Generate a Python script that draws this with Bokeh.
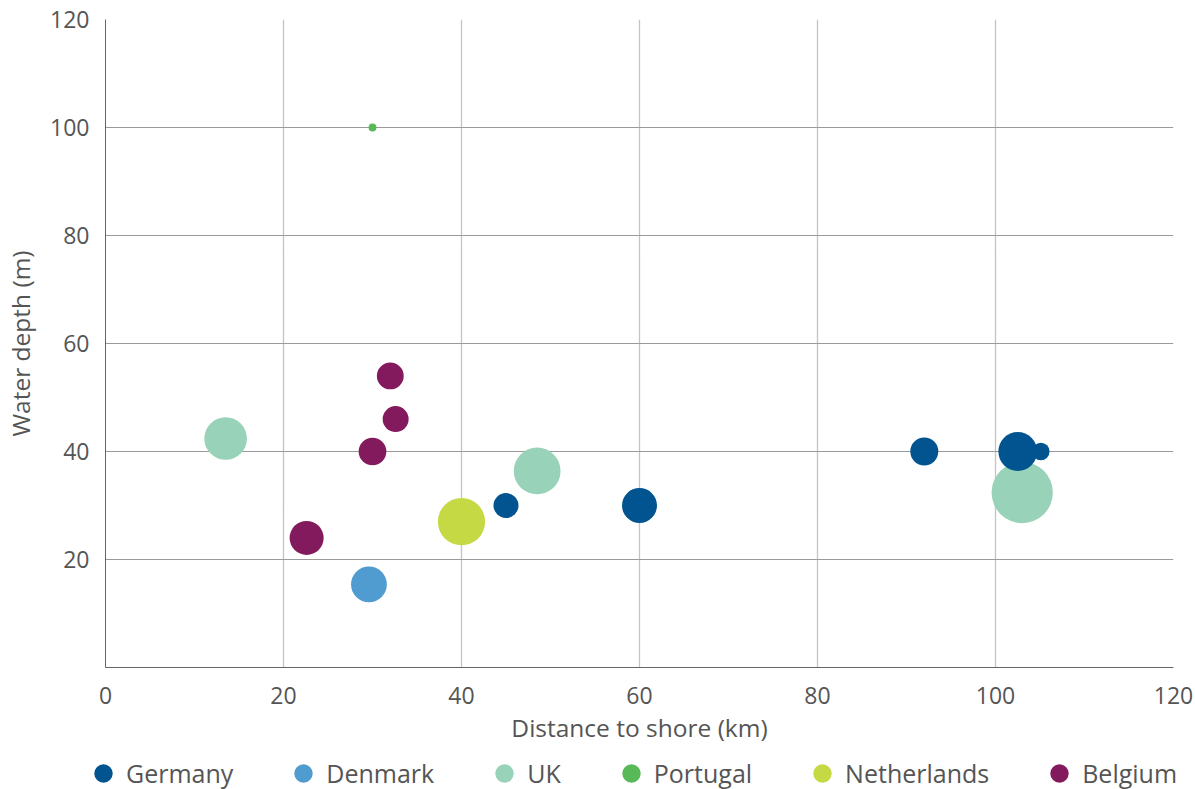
import math
from bokeh.plotting import figure
from bokeh.layouts import column
from bokeh.models import ColumnDataSource, FixedTicker, Legend, LegendItem, Range1d
from bokeh.embed import file_html
from bokeh.resources import INLINE

# ---- data (distance to shore km, water depth m, capacity MW) ----
germany_x = [45.0, 60.0, 92.0, 102.5, 105.1]
germany_y = [30.0, 30.0, 40.0, 40.0, 40.0]
germany_z = [200, 390, 250, 480, 96]

denmark_x = [29.6]
denmark_y = [15.4]
denmark_z = [410]

uk_x = [13.5, 48.5, 103.0]
uk_y = [42.4, 36.4, 32.4]
uk_z = [580, 700, 1200]

portugal_x = [30.0]
portugal_y = [100.0]
portugal_z = [20]

netherlands_x = [40.0]
netherlands_y = [27.0]
netherlands_z = [715]

belgium_x = [32.0, 32.6, 30.0, 22.6]
belgium_y = [54.0, 46.0, 40.0, 24.0]
belgium_z = [230, 216, 245, 370]

x_ticks = [0, 20, 40, 60, 80, 100, 120]
y_ticks = [20, 40, 60, 80, 100, 120]

series = [
    ("Germany", germany_x, germany_y, germany_z, "#01548F"),
    ("Denmark", denmark_x, denmark_y, denmark_z, "#509BCF"),
    ("UK", uk_x, uk_y, uk_z, "#98D2B8"),
    ("Portugal", portugal_x, portugal_y, portugal_z, "#57B957"),
    ("Netherlands", netherlands_x, netherlands_y, netherlands_z, "#C4D944"),
    ("Belgium", belgium_x, belgium_y, belgium_z, "#831A5E"),
]
draw_order = ["Portugal", "Denmark", "UK", "Netherlands", "Belgium", "Germany"]

FONT = "Open Sans"
TEXT = "#555555"
MAX_D = 61.3
zmax = max(max(s[3]) for s in series)

W = 1195
MAIN_H = 754
LEG_H = 35

p = figure(width=W, height=MAIN_H, output_backend="svg", toolbar_location=None,
           x_range=Range1d(0, 120), y_range=Range1d(0, 120),
           min_border_left=105, min_border_right=22, min_border_top=19,
           min_border_bottom=MAIN_H - 19 - 648)
p.outline_line_color = None
p.background_fill_color = "white"
p.border_fill_color = "white"

by_name = {s[0]: s for s in series}
for name in draw_order:
    _, xs, ys, zs, col = by_name[name]
    src = ColumnDataSource(dict(x=xs, y=ys, s=[MAX_D * math.sqrt(z / zmax) for z in zs]))
    p.scatter("x", "y", size="s", source=src, marker="circle",
              fill_color=col, line_color=None)

# axes
p.xaxis.ticker = FixedTicker(ticks=x_ticks)
p.yaxis.ticker = FixedTicker(ticks=y_ticks)
for ax in (p.xaxis[0], p.yaxis[0]):
    ax.major_tick_line_color = None
    ax.minor_tick_line_color = None
    ax.major_tick_out = 0
    ax.major_tick_in = 0
    ax.axis_line_color = "#666666"
    ax.axis_line_width = 1
    ax.major_label_text_font = FONT
    ax.major_label_text_font_size = "23px"
    ax.major_label_text_color = TEXT
    ax.axis_label_text_font = FONT
    ax.axis_label_text_font_size = "24.5px"
    ax.axis_label_text_font_style = "normal"
    ax.axis_label_text_color = TEXT

p.xaxis.axis_label = "Distance to shore (km)"
p.yaxis.axis_label = "Water depth (m)"
p.xaxis.major_label_standoff = 19
p.xaxis.axis_label_standoff = 4
p.yaxis.major_label_standoff = 16
p.yaxis.axis_label_standoff = 10

p.xgrid.grid_line_color = "#C4C4C4"
p.xgrid.grid_line_width = 1.3
p.ygrid.grid_line_color = "#9A9A9A"
p.ygrid.grid_line_width = 1

# ---- legend strip (a separate, axis-less figure) ----
lg = figure(width=W, height=LEG_H, output_backend="svg", toolbar_location=None,
            x_range=Range1d(0, 1), y_range=Range1d(0, 1),
            x_axis_location=None, y_axis_location=None,
            min_border=0, min_border_left=0, min_border_right=0,
            min_border_top=0, min_border_bottom=0)
lg.grid.visible = False
lg.outline_line_color = None
lg.border_fill_color = "white"
lg.background_fill_color = "white"
if "frame_align" in lg.properties():
    lg.frame_align = False
    p.frame_align = False

items = []
for name, xs, ys, zs, col in series:
    # one hidden point per series so the legend glyph is drawn
    r = lg.scatter(x=[float("nan")], y=[float("nan")], marker="circle",
                   fill_color=col, line_color=None)
    items.append(LegendItem(label=name, renderers=[r]))

legend = Legend(items=items, orientation="horizontal", location=(80, -7),
                glyph_width=46, glyph_height=46, label_standoff=0, spacing=47,
                padding=0, margin=0, border_line_color=None,
                background_fill_alpha=0,
                label_text_font=FONT, label_text_font_size="25px",
                label_text_color=TEXT)
lg.add_layout(legend, "center")

layout = column(p, lg, spacing=0)
open("out.html", "w").write(file_html(layout, INLINE))
